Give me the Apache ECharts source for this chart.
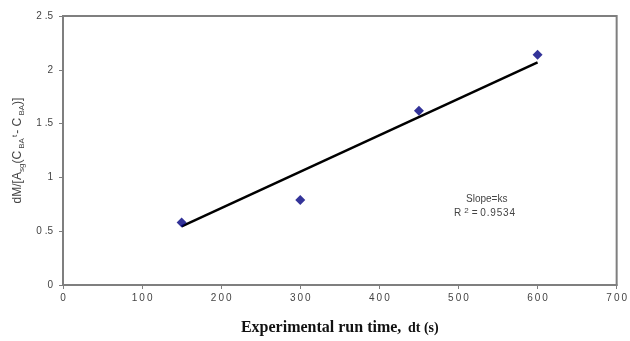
<!DOCTYPE html>
<html>
<head>
<meta charset="utf-8">
<script src="https://cdn.jsdelivr.net/npm/echarts@6/dist/echarts.min.js"></script>
<style>
  html, body { margin: 0; padding: 0; background: #fff; }
  #chart { width: 630px; height: 341px; }
</style>
</head>
<body>
<div id="chart"></div>
<script>
// measured points (run time s, normalised mass change)
const runTimes = [150, 300, 450, 600];
const massValues = [0.58, 0.79, 1.62, 2.14];

// linear trend line endpoints as drawn
const trendX = [150, 600];
const trendY = [0.545, 2.07];

const xTicks = [0, 100, 200, 300, 400, 500, 600, 700];
const yTicks = [0, 0.5, 1, 1.5, 2, 2.5];

const slopeLabel = "Slope=ks";
const r2Value = "0.9534";

const axisGray = "#7f7f7f";
const tickFont = { color: "#444", fontFamily: "Liberation Sans", fontSize: 10 };

const chart = echarts.init(document.getElementById("chart"), null, { renderer: "canvas" });

chart.setOption({
  animation: false,
  backgroundColor: "#fff",
  grid: { left: 63, right: 13, top: 16, bottom: 54, show: true, borderColor: axisGray, borderWidth: 2 },
  xAxis: {
    type: "value",
    min: xTicks[0],
    max: xTicks[xTicks.length - 1],
    interval: 100,
    axisLine: { show: true, lineStyle: { color: axisGray, width: 2 } },
    axisTick: { show: true, length: 4, lineStyle: { color: axisGray } },
    splitLine: { show: false },
    axisLabel: { ...tickFont, margin: 8, formatter: (v) => String(v).split("").join("\u2009") },
    name: "{a|Experimental run time,}  {b|dt (s)}",
    nameLocation: "middle",
    nameGap: 35,
    nameTextStyle: {
      rich: {
        a: { fontFamily: "Liberation Serif", fontWeight: "bold", fontSize: 16, color: "#111" },
        b: { fontFamily: "Liberation Serif", fontWeight: "bold", fontSize: 14, color: "#111" }
      }
    }
  },
  yAxis: {
    type: "value",
    min: yTicks[0],
    max: yTicks[yTicks.length - 1],
    interval: 0.5,
    axisLine: { show: true, lineStyle: { color: axisGray, width: 2 } },
    axisTick: { show: true, length: 4, lineStyle: { color: axisGray } },
    splitLine: { show: false },
    axisLabel: { ...tickFont, margin: 10, formatter: (v) => String(v).replace(".", " .") },
    name: "{t|dM/[A}{s|sg}{t|(C}{s| BA}{p|t}{t|- C}{s| BA}{t|)]}",
    nameLocation: "middle",
    nameGap: 36,
    nameRotate: 90,
    nameTextStyle: {
      rich: {
        t: { fontFamily: "Liberation Sans", fontSize: 12, color: "#444" },
        s: { fontFamily: "Liberation Sans", fontSize: 8, color: "#444", verticalAlign: "bottom", padding: [5, 0, 0, 0] },
        p: { fontFamily: "Liberation Sans", fontSize: 8, color: "#444", verticalAlign: "top", padding: [0, 1, 7, 1] }
      }
    }
  },
  graphic: [
    {
      type: "text",
      left: 466,
      top: 194,
      style: { text: slopeLabel, font: "10px Liberation Sans", fill: "#444" }
    },
    {
      type: "text",
      left: 454,
      top: 207,
      style: {
        text: "{r|R}{sup|2}{r|= " + r2Value.split("").join("\u200A") + "}",
        rich: {
          r: { font: "10px Liberation Sans", fill: "#444" },
          sup: { font: "8px Liberation Sans", fill: "#444", verticalAlign: "top", padding: [0, 3, 5, 3] }
        }
      }
    }
  ],
  series: [
    {
      type: "line",
      data: trendX.map((x, i) => [x, trendY[i]]),
      symbol: "none",
      lineStyle: { color: "#000", width: 2.5 },
      z: 2
    },
    {
      type: "scatter",
      data: runTimes.map((x, i) => [x, massValues[i]]),
      symbol: "diamond",
      symbolSize: [10, 10],
      itemStyle: { color: "#000080" },
      z: 3
    }
  ]
});
</script>
</body>
</html>
